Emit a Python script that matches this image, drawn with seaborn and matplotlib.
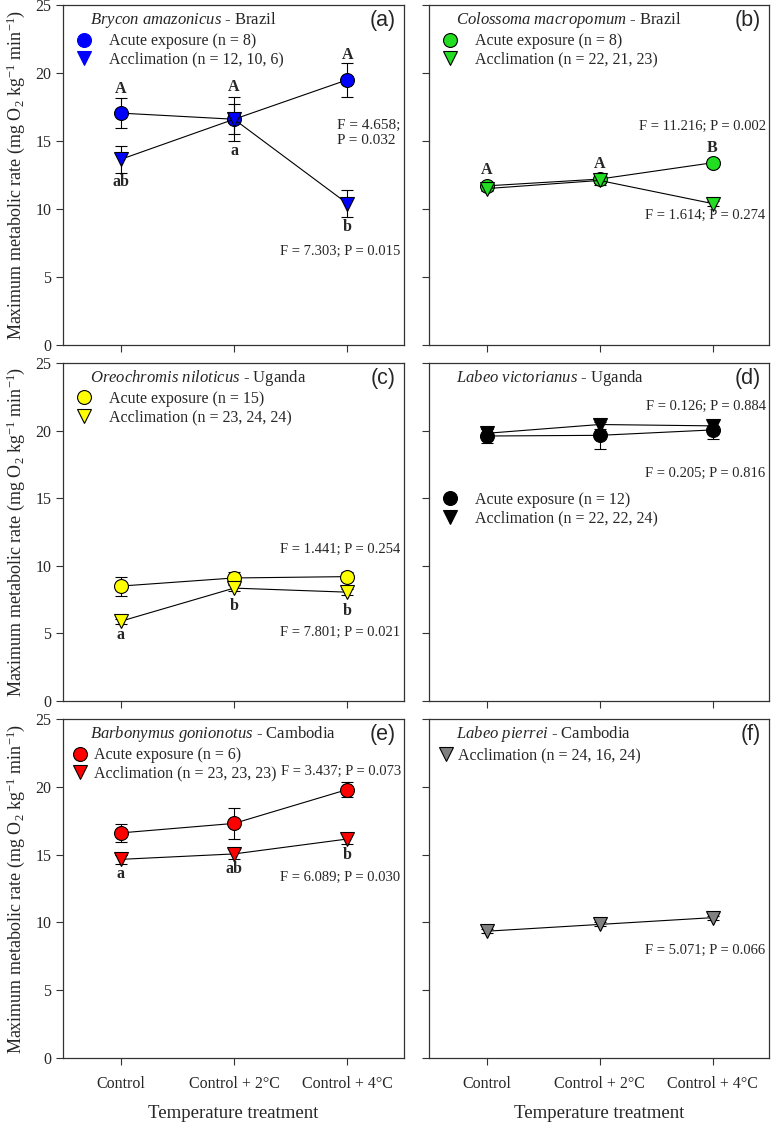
import pandas as pd
import matplotlib.pyplot as plt
from matplotlib.lines import Line2D
import seaborn as sns

# Data
cats = ["Control", "Control + 2°C", "Control + 4°C"]

a_acute = [17.05, 16.6, 19.5]
a_acute_se = [1.1, 1.1, 1.25]
a_accl = [13.65, 16.6, 10.4]
a_accl_se = [1.0, 1.6, 1.0]

b_acute = [11.7, 12.2, 13.4]
b_acute_se = [0.3, 0.3, 0.3]
b_accl = [11.5, 12.1, 10.4]
b_accl_se = [0.2, 0.3, 0.2]

c_acute = [8.5, 9.1, 9.2]
c_acute_se = [0.7, 0.45, 0.35]
c_accl = [5.9, 8.35, 8.05]
c_accl_se = [0.2, 0.2, 0.2]

d_acute = [19.6, 19.65, 20.05]
d_acute_se = [0.5, 1.0, 0.7]
d_accl = [19.8, 20.45, 20.35]
d_accl_se = [0.3, 0.35, 0.35]

e_acute = [16.6, 17.3, 19.8]
e_acute_se = [0.65, 1.15, 0.55]
e_accl = [14.65, 15.05, 16.15]
e_accl_se = [0.35, 0.35, 0.4]

f_accl = [9.35, 9.85, 10.35]
f_accl_se = [0.15, 0.15, 0.15]

sns.set_style("ticks")
plt.rcParams["font.family"] = ["Liberation Serif", "DejaVu Serif"]
plt.rcParams["mathtext.fontset"] = "custom"
plt.rcParams["mathtext.rm"] = "Liberation Serif"
plt.rcParams["mathtext.it"] = "Liberation Serif:italic"
plt.rcParams["mathtext.bf"] = "Liberation Serif:bold"

fig = plt.figure(figsize=(7.71, 11.24), dpi=100)
lefts = [63 / 771, 429 / 771]
widths = [341 / 771, 340 / 771]
rows = [(5, 345), (363, 701), (719, 1058)]

axes = {}
names = ["a", "b", "c", "d", "e", "f"]
for i, nm in enumerate(names):
    r, c = divmod(i, 2)
    top, bot = rows[r]
    axes[nm] = fig.add_axes([lefts[c], 1 - bot / 1124, widths[c], (bot - top) / 1124])

FS = 10.5      # F / P statistics
LFS = 11.5     # legend entries
TFS = 12       # species titles


def draw_series(ax, vals, se, color, marker):
    df = pd.DataFrame({"x": range(3), "y": vals})
    ax.errorbar(df["x"], df["y"], yerr=se, fmt="none", ecolor="black",
                elinewidth=0.8, capsize=4.5, capthick=0.8, zorder=2)
    sns.lineplot(data=df, x="x", y="y", ax=ax, color="black", lw=0.8,
                 marker=marker, markersize=10 if marker == "o" else 10.5,
                 markerfacecolor=color, markeredgecolor="black",
                 markeredgewidth=0.8, zorder=3, legend=False)


def handles(color, edge="black", which=("o", "v")):
    return [Line2D([], [], ls="none", marker=m, markersize=10 if m == "o" else 10.5,
                   markerfacecolor=color, markeredgecolor=edge,
                   markeredgewidth=0.8) for m in which]


def species(ax, genus, country, x=0.08, y=0.955):
    ax.text(x, y, r"$\it{" + genus.replace(" ", r"\ ") + "}$ - " + country,
            transform=ax.transAxes, fontsize=TFS, va="center", ha="left")


def letters(ax, ys, labs):
    for i, (yy, lb) in enumerate(zip(ys, labs)):
        ax.text(i, yy, lb, ha="center", va="center", fontsize=11.5, fontweight="bold")


def panel_tag(ax, tag):
    ax.text(0.975, 0.955, tag, transform=ax.transAxes, ha="right", va="center",
            fontsize=15.5, family="Liberation Sans")


def legend(ax, h, labels, y=0.95, pad=1.0, x=0.0):
    ax.legend(h, labels, loc="upper left", bbox_to_anchor=(x, y), frameon=False,
              fontsize=LFS, handletextpad=pad, labelspacing=0.15, handlelength=1.2,
              borderaxespad=0.3)


# (a)
ax = axes["a"]
draw_series(ax, a_acute, a_acute_se, "blue", "o")
draw_series(ax, a_accl, a_accl_se, "blue", "v")
species(ax, "Brycon amazonicus", "Brazil")
letters(ax, [18.8, 18.95, 21.3], ["A", "A", "A"])
letters(ax, [12.0, 14.3, 8.7], ["ab", "a", "b"])
ax.text(2.5 - 0.03, 15.6, "F = 4.658;\nP = 0.032", ha="right", va="center",
        multialignment="left", fontsize=11, linespacing=1.2)
ax.text(2.5 - 0.03, 6.9, "F = 7.303; P = 0.015", ha="right", va="center", fontsize=FS)
legend(ax, handles("blue", "blue"), ["Acute exposure (n = 8)", "Acclimation (n = 12, 10, 6)"])
panel_tag(ax, "(a)")

# (b)
ax = axes["b"]
draw_series(ax, b_acute, b_acute_se, "#22dd22", "o")
draw_series(ax, b_accl, b_accl_se, "#22dd22", "v")
species(ax, "Colossoma macropomum", "Brazil")
letters(ax, [12.85, 13.3, 14.5], ["A", "A", "B"])
ax.text(2.5 - 0.03, 16.1, "F = 11.216; P = 0.002", ha="right", va="center", fontsize=FS)
ax.text(2.5 - 0.03, 9.5, "F = 1.614; P = 0.274", ha="right", va="center", fontsize=FS)
legend(ax, handles("#22dd22"), ["Acute exposure (n = 8)", "Acclimation (n = 22, 21, 23)"])
panel_tag(ax, "(b)")

# (c)
ax = axes["c"]
draw_series(ax, c_acute, c_acute_se, "yellow", "o")
draw_series(ax, c_accl, c_accl_se, "yellow", "v")
species(ax, "Oreochromis niloticus", "Uganda")
letters(ax, [4.85, 7.0, 6.65], ["a", "b", "b"])
ax.text(2.5 - 0.03, 11.2, "F = 1.441; P = 0.254", ha="right", va="center", fontsize=FS)
ax.text(2.5 - 0.03, 5.1, "F = 7.801; P = 0.021", ha="right", va="center", fontsize=FS)
legend(ax, handles("yellow"), ["Acute exposure (n = 15)", "Acclimation (n = 23, 24, 24)"])
panel_tag(ax, "(c)")

# (d)
ax = axes["d"]
draw_series(ax, d_acute, d_acute_se, "black", "o")
draw_series(ax, d_accl, d_accl_se, "black", "v")
species(ax, "Labeo victorianus", "Uganda")
ax.text(2.5 - 0.03, 21.8, "F = 0.126; P = 0.884", ha="right", va="center", fontsize=FS)
ax.text(2.5 - 0.03, 16.85, "F = 0.205; P = 0.816", ha="right", va="center", fontsize=FS)
legend(ax, handles("black"), ["Acute exposure (n = 12)", "Acclimation (n = 22, 22, 24)"],
       y=0.652)
panel_tag(ax, "(d)")

# (e)
ax = axes["e"]
draw_series(ax, e_acute, e_acute_se, "red", "o")
draw_series(ax, e_accl, e_accl_se, "red", "v")
species(ax, "Barbonymus gonionotus", "Cambodia")
letters(ax, [13.6, 13.95, 15.0], ["a", "ab", "b"])
ax.text(2.5 - 0.02, 21.15, "F = 3.437; P = 0.073", ha="right", va="center", fontsize=FS)
ax.text(2.5 - 0.03, 13.3, "F = 6.089; P = 0.030", ha="right", va="center", fontsize=FS)
legend(ax, handles("red"), ["Acute exposure (n = 6)", "Acclimation (n = 23, 23, 23)"],
       pad=0.25, x=-0.01)
panel_tag(ax, "(e)")

# (f)
ax = axes["f"]
draw_series(ax, f_accl, f_accl_se, "gray", "v")
species(ax, "Labeo pierrei", "Cambodia")
ax.text(2.5 - 0.03, 7.9, "F = 5.071; P = 0.066", ha="right", va="center", fontsize=FS)
legend(ax, handles("gray", which=("v",)), ["Acclimation (n = 24, 16, 24)"],
       pad=0.15, x=-0.01)
panel_tag(ax, "(f)")

ylab = r"Maximum metabolic rate (mg O$_2$ kg$^{-1}$ min$^{-1}$)"
for i, nm in enumerate(names):
    ax = axes[nm]
    r, c = divmod(i, 2)
    ax.set_xlim(-0.51, 2.5)
    ax.set_ylim(0, 25)
    ax.set_xticks(range(3))
    ax.set_yticks([0, 5, 10, 15, 20, 25])
    ax.tick_params(direction="out", length=5, width=0.8, labelsize=11.5, color="#333333")
    for s in ax.spines.values():
        s.set_visible(True)
        s.set_linewidth(0.9)
        s.set_color("#333333")
    if c == 0:
        ax.set_ylabel(ylab, fontsize=13, labelpad=6)
    else:
        ax.set_yticklabels([])
        ax.set_ylabel("")
    if r == 2:
        ax.set_xticklabels(cats, fontsize=11.5)
        ax.set_xlabel("Temperature treatment", fontsize=13.5, labelpad=9)
        ax.tick_params(axis="x", pad=8)
    else:
        ax.set_xticklabels([])
        ax.set_xlabel("")

plt.savefig("out.png", dpi=100)
